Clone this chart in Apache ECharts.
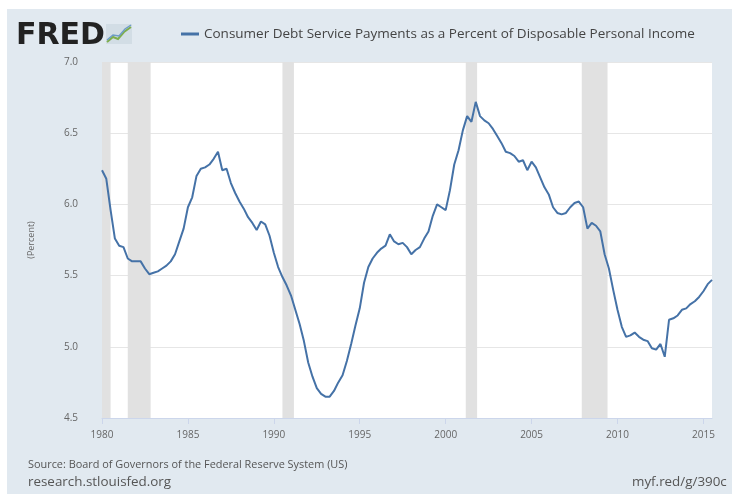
<!DOCTYPE html>
<html>

<head>
    <meta charset="utf-8">
    <script type="text/javascript" src="https://cdn.jsdelivr.net/npm/echarts@6/dist/echarts.min.js"></script>
    <title>FRED - Consumer Debt Service Payments</title>
    <style>
        body { margin: 0; background: #fff; }
        #frame { position: absolute; left: 7px; top: 9px; width: 725px; height: 485px; background: #e1e9f0; }
        #container { position: absolute; left: 0; top: 0; width: 732px; height: 494px; }
    </style>
</head>

<body>
    <div id="frame"></div>
    <div id="container"></div>
    <script type="text/javascript">
    // quarterly observations, first one is 1980 Q1
    var startYear = 1980;
    var seriesName = 'Consumer Debt Service Payments as a Percent of Disposable Personal Income';
    var values = [
        6.24, 6.18, 5.96, 5.76,  // 1980
        5.71, 5.70, 5.62, 5.60,  // 1981
        5.60, 5.60, 5.55, 5.51,  // 1982
        5.52, 5.53, 5.55, 5.57,  // 1983
        5.60, 5.65, 5.74, 5.83,  // 1984
        5.98, 6.05, 6.20, 6.25,  // 1985
        6.26, 6.28, 6.32, 6.37,  // 1986
        6.24, 6.25, 6.15, 6.08,  // 1987
        6.02, 5.97, 5.91, 5.87,  // 1988
        5.82, 5.88, 5.86, 5.78,  // 1989
        5.66, 5.56, 5.49, 5.43,  // 1990
        5.36, 5.26, 5.16, 5.04,  // 1991
        4.89, 4.79, 4.71, 4.67,  // 1992
        4.65, 4.65, 4.69, 4.75,  // 1993
        4.80, 4.90, 5.02, 5.15,  // 1994
        5.27, 5.45, 5.56, 5.62,  // 1995
        5.66, 5.69, 5.71, 5.79,  // 1996
        5.74, 5.72, 5.73, 5.70,  // 1997
        5.65, 5.68, 5.70, 5.76,  // 1998
        5.81, 5.92, 6.00, 5.98,  // 1999
        5.96, 6.10, 6.28, 6.38,  // 2000
        6.52, 6.62, 6.58, 6.72,  // 2001
        6.62, 6.59, 6.57, 6.53,  // 2002
        6.48, 6.43, 6.37, 6.36,  // 2003
        6.34, 6.30, 6.31, 6.24,  // 2004
        6.30, 6.26, 6.19, 6.12,  // 2005
        6.07, 5.98, 5.94, 5.93,  // 2006
        5.94, 5.98, 6.01, 6.02,  // 2007
        5.98, 5.83, 5.87, 5.85,  // 2008
        5.81, 5.65, 5.55, 5.40,  // 2009
        5.26, 5.14, 5.07, 5.08,  // 2010
        5.10, 5.07, 5.05, 5.04,  // 2011
        4.99, 4.98, 5.02, 4.93,  // 2012
        5.19, 5.20, 5.22, 5.26,  // 2013
        5.27, 5.30, 5.32, 5.35,  // 2014
        5.39, 5.44, 5.47         // 2015
    ];
    // recessions (start, end) as decimal years
    var recessions = [
        [1980.0, 1980.5],
        [1981.5, 1982.83],
        [1990.5, 1991.17],
        [2001.17, 2001.83],
        [2007.92, 2009.42]
    ];
    var yearTicks = [1980, 1985, 1990, 1995, 2000, 2005, 2010, 2015];

    var points = values.map(function(v, i) {
        return [startYear + i / 4, v];
    });

    var myChart = echarts.init(document.getElementById('container'));

    var labelFont = '"Open Sans", sans-serif';

    var option = {
        animation: false,
        legend: {
            left: 176,
            top: 22,
            icon: 'rect',
            itemWidth: 18,
            itemHeight: 3,
            itemGap: 6,
            textStyle: { color: '#444', fontSize: 13.5, fontFamily: labelFont },
            data: [seriesName]
        },
        grid: {
            left: 102,
            top: 62,
            width: 610,
            height: 356,
            show: true,
            backgroundColor: '#fff',
            borderWidth: 0
        },
        xAxis: {
            type: 'value',
            min: 1980,
            max: 2015.5,
            interval: 5,
            axisLine: { show: true, lineStyle: { color: '#ccd6eb', width: 1 } },
            axisTick: { show: true, length: 6, lineStyle: { color: '#ccd6eb' }, customValues: yearTicks },
            axisLabel: {
                color: '#666',
                fontSize: 10,
                margin: 12,
                fontFamily: labelFont,
                customValues: yearTicks,
                formatter: function(v) { return String(v); }
            },
            splitLine: { show: false }
        },
        yAxis: {
            type: 'value',
            min: 4.5,
            max: 7.0,
            interval: 0.5,
            name: '(Percent)',
            nameLocation: 'middle',
            nameRotate: 90,
            nameGap: 66,
            nameTextStyle: { color: '#666', fontSize: 9, fontFamily: labelFont },
            axisLine: { show: false },
            axisTick: { show: false },
            axisLabel: {
                color: '#666',
                fontSize: 10,
                margin: 24,
                fontFamily: labelFont,
                formatter: function(v) { return v.toFixed(1); }
            },
            splitLine: { show: true, lineStyle: { color: '#e6e6e6', width: 1 } }
        },
        series: [{
            name: seriesName,
            type: 'line',
            data: points,
            showSymbol: false,
            lineStyle: { color: '#4572a7', width: 2 },
            itemStyle: { color: '#4572a7' },
            markArea: {
                silent: true,
                itemStyle: { color: '#e1e1e1' },
                data: recessions.map(function(r) {
                    return [{ xAxis: r[0] }, { xAxis: r[1] }];
                })
            },
            z: 3
        }],
        graphic: [
            {
                type: 'text',
                left: 16,
                top: 21,
                style: { text: 'FRED', font: 'bold 30px "DejaVu Sans"', fill: '#222' }
            },
            {
                type: 'rect',
                shape: { x: 106, y: 24, width: 26, height: 20 },
                style: { fill: '#d2dde5' }
            },
            {
                type: 'polyline',
                shape: { points: [[107, 42], [113, 37], [118, 39], [124, 32], [131, 27]] },
                style: { stroke: '#7eae4c', lineWidth: 2, fill: null }
            },
            {
                type: 'polyline',
                shape: { points: [[107, 40], [113, 35], [119, 36], [125, 29], [131, 25]] },
                style: { stroke: '#6d9cc6', lineWidth: 1.5, fill: null }
            },
            {
                type: 'text',
                left: 28,
                top: 459,
                style: { text: 'Source: Board of Governors of the Federal Reserve System (US)', font: '10.9px ' + labelFont, fill: '#555' }
            },
            {
                type: 'text',
                left: 28,
                top: 476,
                style: { text: 'research.stlouisfed.org', font: '13.4px ' + labelFont, fill: '#555' }
            },
            {
                type: 'text',
                left: 632,
                top: 476,
                style: { text: 'myf.red/g/390c', font: '13.4px ' + labelFont, fill: '#555' }
            }
        ]
    };

    myChart.setOption(option);
    </script>
</body>

</html>
